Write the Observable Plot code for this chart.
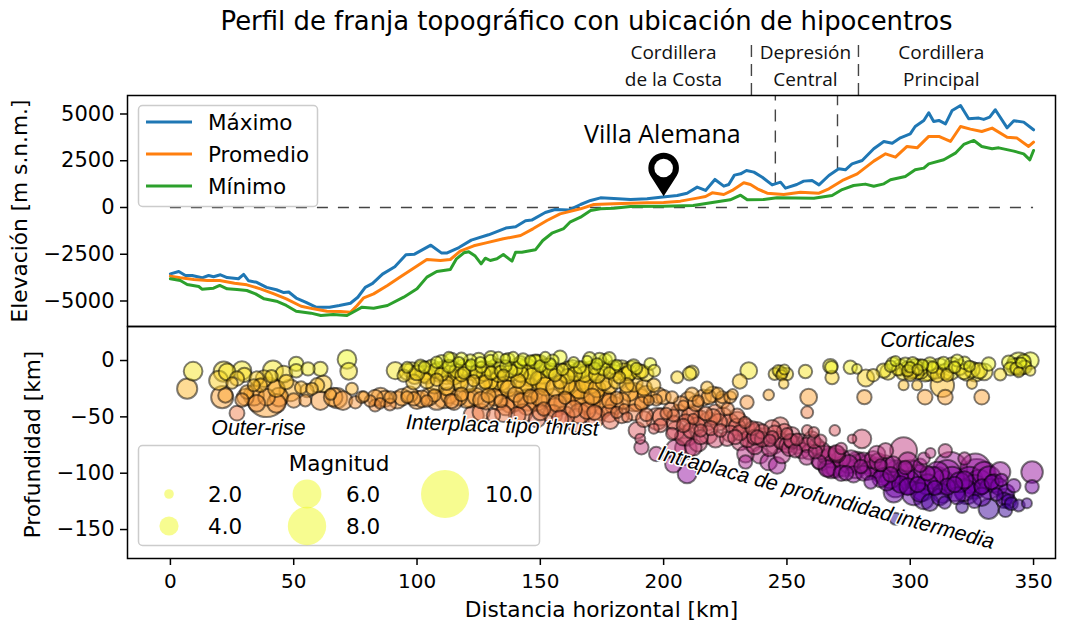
<!DOCTYPE html>
<html><head><meta charset="utf-8">
<script src="https://cdn.jsdelivr.net/npm/d3@7"></script>
<script src="https://cdn.jsdelivr.net/npm/@observablehq/plot@0.6"></script>
<style>
html,body{margin:0;padding:0;background:#fff}
#chart{position:relative;width:1070px;height:626px;overflow:hidden;font-family:"DejaVu Sans";color:#000}
#chart svg{position:absolute;left:0;overflow:visible}
.abs{position:absolute;white-space:nowrap}
</style></head><body><div id="chart"></div>
<script>
// profile lines: [km, elevation m]
const maximo=[[0,-3548],[3.4,-3423],[6.1,-3637],[8.8,-3637],[12.8,-3760],[15.5,-3637],[17.5,-3700],[20.3,-3600],[23,-3745],[27.6,-3810],[29.7,-3580],[31.7,-3920],[35,-4000],[39,-4270],[43,-4400],[46,-4550],[48,-4520],[51,-4840],[55,-5070],[59,-5330],[64.5,-5330],[68.5,-5240],[73,-5120],[76,-4800],[79,-4270],[82,-4060],[86,-3565],[91,-3170],[95.5,-2530],[99,-2495],[105.6,-2015],[110,-2440],[112,-2440],[117,-2140],[122,-1745],[129,-1460],[136,-1100],[140,-1030],[144,-710],[146.5,-675],[152,-265],[156,-105],[161.5,-140],[166.3,160],[170.4,375],[174.4,515],[179.8,480],[186.6,430],[193.3,465],[198.7,550],[205.5,640],[209.5,765],[213.6,1090],[217,910],[220.8,1500],[224.4,1140],[226.4,1230],[228.7,1730],[231.2,1800],[233.6,1980],[236.6,1890],[240,1620],[244,1210],[247.4,1355],[249.4,1035],[254,1230],[256.8,1410],[260.2,1445],[263,1210],[267,1710],[271,2070],[273.7,2015],[276.4,2335],[280.5,2515],[285.2,3140],[289.3,3530],[292.7,3440],[296,3725],[300,3940],[302,4330],[305.5,4655],[307.5,5065],[309.5,4600],[311.6,4655],[314.3,4475],[317,5190],[320.4,5455],[323.7,4745],[327.8,4780],[329.8,4710],[332.2,4830],[334.5,5225],[339.3,4260],[342,4635],[346,4565],[350,4155]];
const promedio=[[0,-3670],[4,-3760],[9.5,-3850],[15,-3905],[20,-3905],[26,-4050],[31,-4135],[36.5,-4350],[42,-4620],[47,-4885],[53,-5280],[58,-5420],[63.5,-5545],[69,-5565],[73,-5600],[75.7,-5240],[78.4,-4830],[82.4,-4620],[88,-4170],[93,-3730],[98.6,-3245],[104,-2780],[109.5,-2835],[113.5,-2780],[117.5,-2335],[123,-2050],[128,-1890],[135,-1675],[142,-1500],[147,-1140],[152.7,-695],[158,-340],[166.3,-70],[171.7,160],[179.8,195],[186.6,230],[193.3,250],[200,265],[206.8,340],[213.6,500],[217,590],[219.7,785],[224.4,695],[227.8,910],[232.5,1320],[235.2,1230],[238,1000],[242,765],[248.7,695],[255.5,820],[263,765],[267,1000],[273,1480],[278.5,1800],[285.2,2480],[290,2870],[294,2690],[298.7,3265],[302.8,3190],[307.5,3800],[311.6,3800],[316.3,3530],[320.4,4330],[324.4,4190],[329,4065],[333.2,4245],[339.3,3760],[343.3,3710],[348,3265],[350,3495]];
const minimo=[[0,-3815],[4,-3905],[6.8,-4120],[11.5,-4225],[12.8,-4370],[17.5,-4315],[20,-4170],[23,-4350],[27,-4385],[31,-4440],[34.5,-4620],[38,-4885],[43,-5010],[47,-5240],[51,-5545],[57,-5650],[61,-5775],[66,-5725],[71.6,-5775],[74,-5600],[77.7,-5330],[82.4,-5385],[88,-5240],[94.6,-4795],[100,-4350],[104,-3725],[108,-3420],[113.5,-3315],[116,-2745],[119,-2425],[121,-2370],[123.6,-2600],[126,-3015],[127.7,-2710],[129.7,-2835],[132.4,-2745],[135,-2515],[138.5,-2870],[140,-2390],[142.5,-2390],[148,-2265],[151,-1765],[154.7,-1375],[159.5,-1125],[162,-785],[166.3,-520],[170.4,-160],[174.4,-70],[179.8,-35],[186.6,55],[200,70],[212,105],[220.4,285],[227,410],[231.2,660],[233.9,410],[240.6,430],[246,515],[260.9,500],[268.3,640],[272.4,960],[277,1175],[281.8,1250],[285.2,1140],[289.3,1265],[292,1480],[298,1660],[302,2015],[305.5,2105],[307.5,2335],[313.6,2550],[318.3,2905],[321.7,3370],[325.8,3585],[329,3265],[333.2,3140],[335.9,3190],[342,3015],[346,2870],[348.5,2550],[350,3050]];
const lineNames=["Máximo","Promedio","Mínimo"];
const lineColors=["#1f77b4","#ff7f0e","#2ca02c"];
const zonas=["Cordillera\nde la Costa","Depresión\nCentral","Cordillera\nPrincipal"];
const zonaKm=[204,257.5,312.6];
const yTicksTop=[-5000,-2500,0,2500,5000];
const yTicksBottom=[-150,-100,-50,0];
const xTicks=[0,50,100,150,200,250,300,350];
// hypocentres: [km, depth km, magnitude]
const outerRise=[[9.2,-9.5,3.9],[6.8,-25,4.2],[21.6,-9.8,4.2],[19.6,-17.7,4],[23,-10,3.5],[21,-32.5,4.6],[22.3,-31,3],[29,-9,3.9],[30,-12.7,3],[27,-16,3],[27,-46.7,3.1],[39,-32.5,8.3],[41.6,-9,4.2],[38,-16,3.5],[35,-16,3],[46,-12,3.5],[51,-3,3],[51,-9,2.8],[55.8,-7.4,2.8],[60.8,-7.4,3],[71.6,1,3.9],[72.3,-9.5,3.5],[33.8,-31,4.2],[30.4,-32.5,3.5],[39,-32.5,3.5],[44,-32.5,3.9],[48.6,-26.6,4.5],[50,-35.5,3],[54.7,-35.5,2.5],[55.4,-26.6,2.8],[59.5,-22,3],[57.4,-25,2.5],[62,-20.7,3.5],[60.8,-35.5,3.9],[66,-32.5,3.9],[70,-35.5,3.9],[67.6,-33.4,4.2],[73.6,-25,2.5],[77.7,-32.5,2.5],[78.4,-32,2.2],[47,-19,3],[43,-25,3.5],[36.5,-22,2.8],[33.8,-22,2.5],[31,-28,2.8],[35,-38,3.5],[43,-38,3.9],[29,-35,2.8],[25,-20,2.4],[41,-14,2.6],[53,-24,2.6],[65,-30,2.3],[81,-36,2.4],[83,-33,3.3],[85,-38,2.2],[87,-34,3.4],[89,-39,2.5],[75,-37,2.6]];
const shallowBand=[[91.2,-8.9,3.6],[98,-8.9,3.5],[105,-9,3.9],[107.5,-9,3],[111.5,-7.4,3.5],[120.3,-7.4,3.5],[112.9,3,2.2],[117,-1.5,2.2],[128.4,-7.4,3],[133,3,2.2],[135.8,1.5,2],[139,3,2.2],[137.9,-9,2.8],[144.6,-7.4,4.2],[148,-9,6.2],[152,3,2.2],[158,3,2.8],[161.5,-9,3.9],[170.3,-9,3.9],[169,0,2],[176.4,0,2.8],[183.8,-9.8,3.5],[179.7,-6,2.8],[191.2,-9.8,2.8],[194.6,-3,2.5],[196.2,-9,2.5],[101.4,-4.4,2.5],[108,-1.5,2.4],[121.6,0,2.6],[125.7,-1.5,2.2],[129.8,0,2.4],[142,-1.5,2.6],[146,0,2.2],[154,-3,2.4],[163.5,-1.5,2.2],[173,-3,2.4],[175.7,-7.4,2.8],[187.8,-4.4,2.6],[94.6,-13.4,2.6],[98.6,-19,3.1],[114.9,-14.8,3.2],[117.6,-20.7,3.2],[127.7,-19,2.8],[131,-19,4.2],[132.5,-22,4.9],[144.6,-23.6,4.9],[150,-17.8,4.2],[175.7,-19,3.4],[196,-22,2.8],[205.5,-14.8,2.5],[210.5,-11.8,2.8],[185,-22,3],[163.5,-24.7,4.9],[103,-6,2.4],[110,-12,2.8],[113,-5,2.7],[116,-9,2.9],[119,-11,2.5],[122,-4,2.4],[124,-10,2.6],[126,-6,2.3],[130,-11,2.7],[132,-5,3.1],[134,-10,2.5],[136,-5,2.4],[140,-7,2.9],[142,-12,3.2],[150,-5,2.5],[154,-9,3.1],[156,-13,2.6],[159,-8,2.4],[164,-12,3],[166,-6,2.6],[168,-12,3.3],[172,-7,2.5],[178,-11,2.4],[181,-4,2.2],[186,-11,3.2],[189,-7,2.4],[100,-11,3.1],[96,-6,2.3],[103,-12,3.5],[118,-13,2.6],[127,-12,2.9],[135,-13,2.4],[147,-14,3.6],[161,-14,3],[173,-13,3.3],[182,-15,2.5],[108,-17,2.6],[112,-20,2.9],[123,-18,2.4],[136,-21,3.5],[141,-18,3],[152,-23,3.8],[158,-19,2.8],[168,-21,3.6]];
const shallowBand2=[[96,-10,3.4],[99,-14,3.2],[102,-9,4],[104,-13,3.6],[106,-6,3.2],[109,-10,4.1],[112,-13,3.8],[114,-8,3.6],[117,-11,4.2],[119,-6,3.4],[122,-9,4],[125,-13,3.5],[127,-8,3.7],[130,-9,3.9],[133,-12,3.3],[135,-7,3.6],[138,-11,3.4],[141,-6,3.9],[143,-10,4.5],[146,-12,5],[149,-6,5.2],[151,-11,4.4],[153,-6,3.6],[156,-10,3.4],[160,-11,3.8],[163,-7,3.5],[165,-10,3.6],[167,-8,3.4],[170,-12,3.8],[172,-9,4.2],[175,-5,3.4],[177,-9,3.5],[180,-11,3.3],[183,-8,3.9],[185,-13,3.4],[187,-8,3.6],[190,-10,3.1],[193,-12,3],[110,-1,2.8],[114,1,2.8],[118,1.5,2.6],[125,1,2.8],[130,2.5,2.8],[137,1,2.7],[143,1,2.6],[148,-1,3],[155,0,2.5],[170,2,2.6],[174,1,2.8],[178,2,2.6],[104,-18,3.2],[107,-22,3.4],[112,-24,3.2],[117,-17,3.6],[121,-21,3.4],[126,-22,3.7],[129,-18,4],[134,-17,4.5],[137,-25,3.4],[143,-20,4.4],[147,-24,5.2],[152,-18,4.5],[156,-24,3.8],[160,-21,4.2],[166,-24,4.6],[170,-20,4.5],[173,-25,3.6],[178,-22,3.5],[181,-18,3.3],[188,-20,3.6],[192,-24,3.3]];
const thrustBand=[[85.2,-32.5,3.9],[94,-32.5,3.5],[96,-32.5,2.5],[102,-34,3.5],[111,-33.4,4.2],[116.9,-32.5,3.5],[121.6,-33.4,3.9],[131.4,-32.5,3.5],[137.9,-37.6,4.2],[148.7,-35.5,4.2],[154.8,-34.6,4.5],[162.2,-26.6,4.9],[167,-35.5,4.9],[175,-29.6,5.6],[173,-40,6.3],[188,-32.5,5.9],[200,-32.5,3],[203.4,-32.5,2.5],[83,-40,2.5],[89.2,-32.5,2.5],[98.7,-34,2.8],[142,-35.5,3],[151.4,-43,2.8],[144.6,-40,3.9],[169,-44.4,3.5],[163.5,-43,3.5],[194,-35.5,2.1],[184,-43,2.1],[104,-36,2.4],[107,-31,2.6],[114,-36,3],[118,-30,2.8],[126,-35,3.4],[129,-31,3],[134,-36,2.6],[140,-30,3.2],[146,-32,2.9],[157,-38,3.6],[160,-33,2.6],[171,-32,3.4],[178,-36,3.1],[181,-33,2.6],[191,-38,2.8],[197,-35,2.4],[92,-35,3.6],[97,-30,3.4],[100,-35,3.8],[105,-32,3.6],[108,-35,4.1],[113,-31,3.4],[115,-37,3.2],[120,-34,3.8],[124,-32,3.6],[128,-36,3.5],[133,-35,4.2],[136,-41,3.6],[140,-36,4.1],[145,-35,4.5],[150,-33,3.8],[152,-38,4.7],[156,-42,4],[160,-38,4.5],[165,-30,5],[169,-36,5.5],[171,-28,5],[176,-38,5.1],[180,-40,3.8],[183,-36,3.5],[186,-28,3.8],[190,-35,4.8],[193,-30,3.6],[198,-31,3.3],[207,-38,3],[210,-35,3.4],[213,-38,3.2],[216,-33,3.4],[220,-30,3.3],[224,-36,3]];
const redBand=[[123,-48.8,4.2],[131,-48.8,2.8],[140.6,-48.8,3.5],[148.7,-51.8,3.5],[158,-51.8,3.5],[164.9,-53.3,4.9],[178.4,-53.3,3.5],[185.2,-50.3,2.1],[197.3,-51.8,4.5],[204,-48.8,2.5],[208,-40,2.1],[203.4,-65,2.5],[189.2,-62,3.5],[190.5,-69.5,2.1],[208,-57.7,2.8],[196,-60.6,2.1],[198.7,-57.7,2.8],[210.8,-48.8,3.5],[222.3,-54.7,3.5],[213.6,-57.7,3.5],[209.5,-66.6,4.2],[229.8,-49,3],[229.8,-59,3.5],[225.7,-69.5,3],[247.3,-57.7,3.5],[217,-47,2.8],[220,-50,3.3],[226,-43,2.6],[215,-62,2.6],[219,-60,3],[233,-55,2.4],[236,-60,2.9],[240,-63,3],[244,-68,2.6],[204,-55,2.9],[201,-47,2.4],[193,-48,2.7],[181,-46,2.4],[172,-46,3.1],[212,-52,2.2],[223,-62,2.7],[238,-68,2.9],[250,-65,2.4],[254,-70,2.5],[126,-46,3.6],[135,-47,3.5],[143,-47,3.8],[150,-46,3.3],[155,-48,4],[160,-49,4],[166,-47,4.2],[172,-50,4.3],[178,-47,3.6],[183,-49,3.1],[188,-46,3.4],[192,-52,3.3],[199,-50,3.6],[203,-44,3.2],[206,-47,3.6],[209,-55,3.4],[212,-48,4],[215,-52,3.6],[218,-54,3.8],[221,-47,3.7],[224,-50,3.9],[227,-55,3.6],[230,-54,4],[233,-60,4],[236,-65,4.2],[238,-62,3.5],[241,-68,3.8],[244,-60,3.4],[247,-70,3.4],[249,-63,3.2],[252,-66,3.3],[255,-72,3.4],[258,-75,3.1],[260,-70,3.4],[262,-76,3.3],[205,-62,3.8],[208,-68,3.5],[211,-62,3.2],[214,-73,3.7],[218,-66,3.8],[221,-70,3.4],[227,-65,3.4],[231,-72,3.6],[237,-76,3.4],[243,-78,3.3],[248,-84,3.4],[250,-75,3.2],[239,-84,3.5]];
const farCrust=[[211.5,-10.4,2.8],[234.5,-9,3.5],[230.9,-18.6,3],[217.6,-24,2.5],[211.5,-30,2.8],[218.3,-32.5,3],[223.7,-32.5,2.5],[227,-32.5,2.5],[233.8,-37,2.8],[242.6,-30.5,2.2],[247.3,-10.4,2.6],[248.2,-11,2.2],[246.5,-9,2.4],[249,-8,2.1],[245,-12,2.5],[247.8,-13,2.2],[250,-12,2.6],[248.7,-20.7,2],[257.5,-9.8,2.8],[258.8,-32.5,3.5],[258.2,-46,2.5],[267.6,-5,3],[268,-6,2.6],[268.3,-15,2.8],[275.7,-6,2.8],[278.4,-7.4,2],[281.4,-32.5,3],[222,-29,2.4],[214,-36,2.4],[228,-30,2.2]];
const corticales=[[289.2,-9,3],[282,-15.5,3.5],[285,-13,2.6],[294,-0.5,2.1],[298.8,-7.4,3.1],[301,-2,2.4],[307.5,-9,4.2],[304,-9,3.5],[313.5,-2,2.5],[316.3,-9,3.9],[319,0,2.5],[321.7,-10,3.1],[326.4,-10.4,3.9],[331.8,-3,2.8],[336.5,-12.4,2.5],[313,-22,4.9],[314.2,-32.5,3.1],[306,-32.5,3.1],[329,-32.5,3.1],[297.3,-22,2.1],[302.8,-22,2.1],[325,-20.7,2.1],[344,-3,4.8],[339.9,-1.5,2.8],[348.7,0,3.5],[348.7,-9,2.1],[344,-10.4,2.1],[340.6,-7.4,2.8],[346.5,-6,2.8],[292,-5,2.4],[295,-8,2.5],[297,-11,2.8],[300,-6,2.2],[303,-11,2.6],[305,-4,2.3],[309,-6,2.4],[311,-13,2.9],[318,-6,2.4],[324,-5,2.3],[300,-13,2.5],[303,-8,2.2],[299,-9,2.4],[301,-10,2.6],[315,-13,2.6],[343,-7,2.5],[345,-2,2.2],[291,-10,3.3],[293,-3,2.8],[296,-6,3.4],[298,-3,2.7],[300,-9,3.6],[302,-5,3],[304,-6,3.4],[306,-11,3.6],[308,-3,2.8],[310,-9,3.4],[312,-5,3.3],[314,-10,3.3],[317,-4,3.2],[320,-6,3.2],[322,-2,2.6],[323,-11,3.3],[325,-8,3.3],[328,-9,3.3],[330,-10,3.5],[344,-5,3.6],[346,-1,3],[342,-5,3.2]];
const slab=[[233.2,-83,3.5],[235.9,-72.5,3.9],[233.2,-90,2.8],[243,-71,2.5],[242.6,-90,3.5],[246,-93,3.5],[251.4,-71,2.8],[253.4,-80,2.8],[258.2,-62,2.2],[260.9,-63.6,2.2],[263.6,-71,2.5],[261.5,-81,2.8],[269.4,-62,2.2],[276.4,-69.5,1.8],[280.4,-69.5,3.9],[269,-90,5.6],[278.4,-90,4.2],[270.3,-83,3.5],[266.3,-96,3.5],[286.5,-83,3.5],[286.5,-95,4.2],[297.3,-80,5.6],[300,-103.5,7],[294.6,-99,4.9],[308.2,-82,2.1],[314.2,-80,2.8],[310.9,-106.5,5.6],[316.3,-96,7],[327,-103.5,7.6],[326.4,-96,6.3],[336.5,-99,4.2],[349.4,-99,4.5],[349.4,-112,2.8],[338.6,-121,3.5],[331.8,-131.7,4.2],[342,-111,2.8],[344,-128.7,2.5],[347.3,-126.6,2.1],[338.6,-133,2.8],[294,-140.5,2.5],[323,-117,4.9],[319,-120,3.5],[305.5,-123,4.2],[301.4,-118,4.9],[308,-126,3.5],[293.3,-117,4.2],[290.5,-108,3.5],[288,-105,3.5],[321,-130,2.5],[312,-121,3.5],[332,-114,4.2],[304,-93,2.8],[305.5,-87,2.5],[322,-87,2.6],[209.5,-100.6,3.9],[215,-68,3],[205,-79,4.2],[212,-77,3.5],[204,-92,3.5],[209,-78,4.5],[191,-77,3],[197,-83,3],[258,-86,3.1],[263,-90,2.9],[274,-100,3],[281,-100,3.1],[284,-108,2.7],[296,-110,3.5],[299,-112,3.5],[303,-110,3.2],[310,-113,3],[315,-112,3.4],[318,-110,3.2],[322,-106,3.6],[329,-112,3.1],[333,-108,3],[337,-106,2.6],[292,-101,3.1],[280,-94,2.8],[272,-78,2.4],[288,-93,2.5],[307,-100,3],[298,-95,2.8],[326,-125,2.8],[340,-125,3],[335,-119,2.6],[314,-126,2.6],[264,-88,4.3],[267,-93,4.6],[270,-95,4.2],[272,-87,3.8],[275,-92,3.8],[278,-96,4],[281,-90,3.9],[283,-98,3.8],[285,-88,3.6],[288,-99,4.1],[290,-92,3.7],[292,-105,4],[295,-106,4.5],[297,-100,4.8],[299,-108,5],[301,-101,5.8],[303,-104,5.4],[305,-115,4.5],[307,-110,4.3],[309,-104,4.6],[311,-100,4.8],[313,-108,5],[315,-100,5.5],[317,-105,5],[318,-116,4.2],[320,-108,4.2],[322,-115,4.5],[324,-106,5.5],[326,-112,5],[328,-108,5.2],[330,-100,4.8],[332,-104,4.8],[334,-109,3.8],[336,-112,3.5],[339,-117,3.4],[338,-124,3.2],[341,-127,2.7],[299,-90,4],[290,-80,3.2],[304,-117,4],[313,-118,4],[329,-121,3.8],[294,-112,4.4],[240,-70,3.1],[245,-75,3.6],[248,-72,3.3],[251,-78,3.2],[254,-75,3.6],[256,-80,3.3],[259,-81,3.2],[261,-72,2.8],[264,-80,3.6],[266,-84,3.8],[268,-86,4.2],[270,-82,3.3],[273,-94,4.2],[276,-88,3.9],[279,-92,4.2],[283,-92,4],[285,-96,4],[287,-90,3.6],[289,-103,3.6],[291,-96,3.9],[293,-92,3.3],[268,-96,4],[272,-100,3.2],[277,-101,3.4],[231,-64,3.2],[234,-70,3.3],[237,-68,3.2],[229,-68,3],[245,-64,3],[252,-72,3]];
const hipocentros=[...corticales,...farCrust,...shallowBand,...shallowBand2,...outerRise,...thrustBand,...redBand,...slab];
const font='"DejaVu Sans"';
const sans='"Open Sans"';
const ital='"Liberation Sans"';
const W=1070,L=127,R=15;
const num=d3.format("d");
const pin={draw(c,size){const r=Math.sqrt(size/Math.PI);c.arc(0,0,r,Math.PI*0.83,Math.PI*0.17);c.lineTo(0,r*1.85);c.closePath();}};
const elev=[maximo,promedio,minimo].flatMap((s,i)=>s.map(d=>({km:d[0],v:d[1],s:lineNames[i]})));

const topPlot=Plot.plot({width:W,height:326,marginLeft:L,marginRight:R,marginTop:95,marginBottom:0,
 style:{fontFamily:font,background:"transparent",overflow:"visible"},
 x:{domain:[-17.4,358.9],axis:null},
 y:{domain:[-6364,5989],label:null},
 color:{domain:lineNames,range:lineColors},
 marks:[
  Plot.axisY({ticks:yTicksTop,tickFormat:num,fontSize:21,tickSize:7,tickPadding:6,strokeWidth:1.5,label:null,color:"#000"}),
  Plot.text(["Elevación [m s.n.m.]"],{frameAnchor:"left",textAnchor:"middle",rotate:-90,dx:-107,fontSize:21.7}),
  Plot.ruleY([0],{x1:0,x2:350,stroke:"#444",strokeWidth:1.4,strokeDasharray:"11,10"}),
  Plot.ruleX([245.3],{y1:1200,y2:5989,stroke:"#444",strokeWidth:1.4,strokeDasharray:"12,9"}),
  Plot.ruleX([270.5],{y1:2070,y2:5989,stroke:"#444",strokeWidth:1.4,strokeDasharray:"12,9"}),
  Plot.ruleX([235.6],{y1:5989,y2:8800,stroke:"#444",strokeWidth:1.4,strokeDasharray:"12,7"}),
  Plot.ruleX([279],{y1:5989,y2:8800,stroke:"#444",strokeWidth:1.4,strokeDasharray:"12,7"}),
  Plot.line(elev,{x:"km",y:"v",z:"s",stroke:"s",strokeWidth:3,strokeLinejoin:"round"}),
  Plot.frame({stroke:"#000",strokeWidth:1.5}),
  Plot.text(zonas,{x:(d,i)=>zonaKm[i],y:7700,fontFamily:sans,fontSize:19,lineHeight:1.42,fill:"#111"}),
  Plot.text(["Villa Alemana"],{x:199.5,y:3900,fontFamily:sans,fontSize:25,fill:"#000"}),
  Plot.dot([200],{x:d=>d,y:2110,symbol:pin,r:15.3,fill:"#000",stroke:"none"}),
  Plot.dot([200],{x:d=>d,y:2110,r:9.3,fill:"#fff",stroke:"none"})
 ]});
topPlot.style.top="0px";

const botPlot=Plot.plot({width:W,height:300,marginLeft:L,marginRight:R,marginTop:0,marginBottom:68,
 style:{fontFamily:font,background:"transparent",overflow:"visible"},
 x:{domain:[-17.4,358.9],label:null},
 y:{domain:[-175.7,30.2],label:null},
 r:{type:"linear",domain:[0,10],range:[0,24]},
 color:{type:"linear",scheme:"plasma",domain:[-145,-3],clamp:true},
 marks:[
  Plot.axisY({ticks:yTicksBottom,tickFormat:num,fontSize:21,tickSize:7,tickPadding:6,strokeWidth:1.5,label:null,color:"#000"}),
  Plot.axisX({ticks:xTicks,tickFormat:num,fontSize:20,tickSize:7,tickPadding:8,strokeWidth:1.5,label:null,color:"#000"}),
  Plot.text(["Profundidad [km]"],{frameAnchor:"left",textAnchor:"middle",rotate:-90,dx:-94,dy:2,fontSize:21.7}),
  Plot.text(["Distancia horizontal [km]"],{frameAnchor:"bottom",dy:58,dx:10,fontSize:21.7}),
  Plot.dot(hipocentros,{x:d=>d[0],y:d=>d[1],r:d=>d[2],fill:d=>d[1],fillOpacity:0.5,stroke:"#000",strokeOpacity:0.5,strokeWidth:2}),
  Plot.frame({stroke:"#000",strokeWidth:1.5}),
  Plot.text(["Outer-rise"],{x:35.7,y:-60,fontFamily:ital,fontStyle:"italic",fontSize:21.3,fill:"#000"}),
  Plot.text(["Corticales"],{x:307,y:17.7,fontFamily:ital,fontStyle:"italic",fontSize:21.3,fill:"#000"}),
  Plot.text(["Interplaca tipo thrust"],{x:134.6,y:-57.7,rotate:2,fontFamily:ital,fontStyle:"italic",fontSize:21.3,fill:"#000",stroke:"#fff",strokeWidth:3,paintOrder:"stroke"}),
  Plot.text(["Intraplaca de profundidad intermedia"],{x:266,y:-121.6,rotate:15,fontFamily:ital,fontStyle:"italic",fontSize:21.3,fill:"#000",stroke:"#fff",strokeWidth:3,paintOrder:"stroke"})
 ]});
botPlot.style.top="326px";

const chart=document.getElementById("chart");
chart.append(botPlot,topPlot);

const titleEl=document.createElement("div");
titleEl.className="abs";
titleEl.textContent="Perfil de franja topográfico con ubicación de hipocentros";
titleEl.style.cssText="left:0;width:1173px;text-align:center;top:6px;font-size:25.9px;";
chart.append(titleEl);

// legends on top of the panels
const rScale=botPlot.scale("r"), cScale=botPlot.scale("color");
const ov=d3.select(chart).append("svg").attr("width",W).attr("height",626).style("top","0px");
function box(x,y,w,h){ov.append("rect").attr("x",x).attr("y",y).attr("width",w).attr("height",h).attr("rx",4).attr("fill","#fff").attr("fill-opacity",0.8).attr("stroke","#ccc").attr("stroke-width",1.5);}
function txt(s,x,y,anchor="start"){ov.append("text").text(s).attr("x",x).attr("y",y).attr("text-anchor",anchor).attr("dy","0.36em").attr("font-family","DejaVu Sans").attr("font-size",21.5);}
box(138.5,105.5,179,101);
lineNames.forEach((n,i)=>{const y=122+i*32;
 ov.append("line").attr("x1",146).attr("x2",192).attr("y1",y).attr("y2",y).attr("stroke",lineColors[i]).attr("stroke-width",3);
 txt(n,208,y);});
box(138.5,445.5,401,100);
txt("Magnitud",339,463,"middle");
const magLeyenda=[2,4,6,8,10];
const magPos=[[169,494],[169,526],[307,494],[307,526],[445,494]];
const magTxt=[208,208,346,346,485];
magLeyenda.forEach((m,i)=>{
 ov.append("circle").attr("cx",magPos[i][0]).attr("cy",magPos[i][1]).attr("r",rScale.apply(m)).attr("fill",cScale.apply(0)).attr("fill-opacity",0.5);
 txt(m.toFixed(1),magTxt[i],magPos[i][1]);
});
</script></body></html>
